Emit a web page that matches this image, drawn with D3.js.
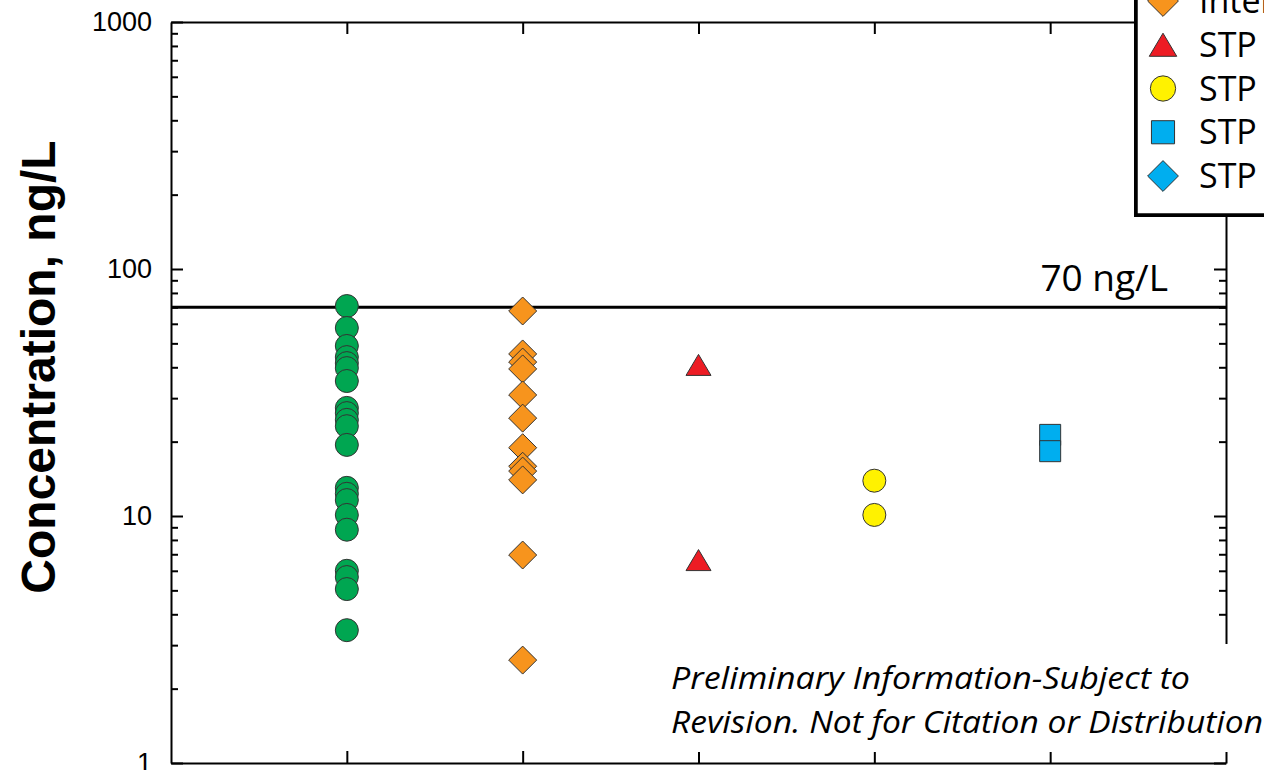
<!DOCTYPE html>
<html>
<head>
<meta charset="utf-8">
<script src="https://cdn.jsdelivr.net/npm/d3@7"></script>
<style>
  body { margin: 0; background: #fff; }
  svg { display: block; }
</style>
</head>
<body>
<div id="chart"></div>
<script>
// data
var categories = [1, 2, 3, 4, 5];
var seriesNames = ["Groundwater", "Intermediate", "STP Influent", "STP Effluent", "STP Primary", "STP Secondary"];
var seriesColors = ["#00a651", "#f7941d", "#ed1c24", "#fff200", "#00aeef", "#00aeef"];
var seriesShapes = ["circle", "diamond", "triangle", "circle", "square", "diamond"];
var seriesCategory = [1, 2, 3, 4, 5, 5];
var greenValues = [70.8, 57.7, 48.8, 44, 41.6, 39.7, 35.2, 27.4, 26.1, 24.5, 23.1, 19.4, 13, 12.3, 11.6, 10.1, 8.8, 6.0, 5.66, 5.06, 3.45];
var orangeValues = [67.6, 45.3, 42, 39.4, 30.9, 24.9, 18.9, 15.9, 15.2, 14, 6.95, 2.61];
var redValues = [40.9, 6.63];
var yellowValues = [13.9, 10.1];
var blueSquareValues = [21.3, 18.3];
var blueDiamondValues = [];
var seriesValues = [greenValues, orangeValues, redValues, yellowValues, blueSquareValues, blueDiamondValues];
var majorTicks = [1, 10, 100, 1000];
var limitValue = 70;
var limitLabel = "70 ng/L";
var yTitle = "Concentration, ng/L";
var noteLines = ["Preliminary Information-Subject to", "Revision. Not for Citation or Distribution"];
var noteWidths = [519, 592];

var width = 1264, height = 770;
var margin = {top: 22, right: 38, bottom: 7, left: 171};

var svg = d3.select("#chart").append("svg").attr("width", width).attr("height", height);

var x = d3.scaleLinear().domain([0, 6]).range([margin.left, width - margin.right]);
var y = d3.scaleLog().domain([1, 1000]).range([height - margin.bottom, margin.top]);

var minorTicks = [];
[1, 10, 100].forEach(function(d) {
    for (var k = 2; k <= 9; k++) minorTicks.push(d * k);
});

function styleAxis(g) {
    g.selectAll("path.domain").attr("stroke", "#000").attr("stroke-width", 2);
    g.selectAll(".tick line").attr("stroke", "#000").attr("stroke-width", 2);
}

// left axis
var leftAx = svg.append("g").attr("transform", "translate(" + x(0) + ",0)");
leftAx.call(d3.axisLeft(y).tickValues(majorTicks).tickSizeInner(-12).tickSizeOuter(0).tickPadding(19).tickFormat(d3.format("d")));
leftAx.selectAll(".tick text").attr("font-family", "Liberation Sans, Arial, sans-serif").attr("font-size", 27).attr("fill", "#000");
var leftMinor = svg.append("g").attr("transform", "translate(" + x(0) + ",0)");
leftMinor.call(d3.axisLeft(y).tickValues(minorTicks).tickSizeInner(-7).tickSizeOuter(0).tickFormat(""));
leftMinor.select("path.domain").remove();
styleAxis(leftAx); styleAxis(leftMinor);

// right axis
var rightAx = svg.append("g").attr("transform", "translate(" + x(6) + ",0)");
rightAx.call(d3.axisRight(y).tickValues(majorTicks).tickSizeInner(-12).tickSizeOuter(0).tickFormat(""));
var rightMinor = svg.append("g").attr("transform", "translate(" + x(6) + ",0)");
rightMinor.call(d3.axisRight(y).tickValues(minorTicks).tickSizeInner(-7).tickSizeOuter(0).tickFormat(""));
rightMinor.select("path.domain").remove();
styleAxis(rightAx); styleAxis(rightMinor);

// top / bottom axes
var topAx = svg.append("g").attr("transform", "translate(0," + y(1000) + ")");
topAx.call(d3.axisTop(x).tickValues(categories).tickSizeInner(-12).tickSizeOuter(0).tickFormat(""));
var bottomAx = svg.append("g").attr("transform", "translate(0," + y(1) + ")");
bottomAx.call(d3.axisBottom(x).tickValues(categories).tickSizeInner(-12).tickSizeOuter(0).tickFormat(""));
styleAxis(topAx); styleAxis(bottomAx);

// y title
svg.append("text")
    .attr("transform", "translate(55,367) rotate(-90)")
    .attr("text-anchor", "middle")
    .attr("font-family", "Liberation Sans, Arial, sans-serif")
    .attr("font-weight", "bold")
    .attr("font-size", 48)
    .text(yTitle);

// 70 ng/L line
svg.append("line")
    .attr("x1", x(0)).attr("x2", x(6))
    .attr("y1", y(limitValue)).attr("y2", y(limitValue))
    .attr("stroke", "#000").attr("stroke-width", 3);
svg.append("text")
    .attr("x", 1168).attr("y", y(limitValue) - 16)
    .attr("text-anchor", "end")
    .attr("font-family", "Open Sans, sans-serif")
    .attr("font-size", 37)
    .text(limitLabel);

// marker shapes
function shapePath(shape, s) {
    var p = d3.path();
    if (shape === "diamond") {
        var h = 14 * s;
        p.moveTo(0, -h); p.lineTo(h, 0); p.lineTo(0, h); p.lineTo(-h, 0); p.closePath();
    } else if (shape === "triangle") {
        var w = 12.5 * s, t = 10.5 * s;
        p.moveTo(0, -t); p.lineTo(w, t); p.lineTo(-w, t); p.closePath();
    } else if (shape === "square") {
        var q = 10.5 * s;
        p.rect(-q, -q, 2 * q, 2 * q);
    } else {
        var r = 11.5 * s;
        p.moveTo(r, 0);
        p.arc(0, 0, r, 0, 2 * Math.PI); p.closePath();
    }
    return p.toString();
}

var pts = svg.append("g");
seriesValues.forEach(function(vals, i) {
    pts.selectAll(".s" + i).data(vals).enter().append("path")
        .attr("class", "s" + i)
        .attr("transform", function(d) { return "translate(" + x(seriesCategory[i]) + "," + y(d) + ")"; })
        .attr("d", shapePath(seriesShapes[i], 1))
        .attr("fill", seriesColors[i])
        .attr("stroke", "#333")
        .attr("stroke-width", 1);
});

// legend
var legX = 1137, legBottom = 214, rowH = 43.75;
var firstRowY = 1 - rowH;
svg.append("rect").attr("x", legX - 3).attr("y", -100).attr("width", 200).attr("height", legBottom + 3 + 100).attr("fill", "#000");
svg.append("rect").attr("x", legX).attr("y", -100).attr("width", 200).attr("height", legBottom + 100)
    .attr("fill", "#fff").attr("stroke", "#000").attr("stroke-width", 1.5);
var legend = svg.selectAll(".legend").data(seriesNames).enter().append("g")
    .attr("class", "legend")
    .attr("transform", function(d, i) { return "translate(1163," + (firstRowY + i * rowH) + ")"; });
legend.append("path")
    .attr("d", function(d, i) { return shapePath(seriesShapes[i], 1.1); })
    .attr("fill", function(d, i) { return seriesColors[i]; })
    .attr("stroke", "#333").attr("stroke-width", 1);
legend.append("text")
    .attr("x", 36).attr("y", 12)
    .attr("font-family", "Open Sans, sans-serif")
    .attr("font-size", 34)
    .text(function(d) { return d; });

// watermark note
svg.append("rect").attr("x", 662).attr("y", 644).attr("width", 602).attr("height", 108).attr("fill", "#fff");
svg.selectAll(".note").data(noteLines).enter().append("text")
    .attr("class", "note")
    .attr("x", 671).attr("y", function(d, i) { return 689 + i * 44; })
    .attr("font-family", "Open Sans, sans-serif")
    .attr("font-style", "italic")
    .attr("font-size", 31)
    .attr("textLength", function(d, i) { return noteWidths[i]; })
    .attr("lengthAdjust", "spacingAndGlyphs")
    .text(function(d) { return d; });
</script>
</body>
</html>
